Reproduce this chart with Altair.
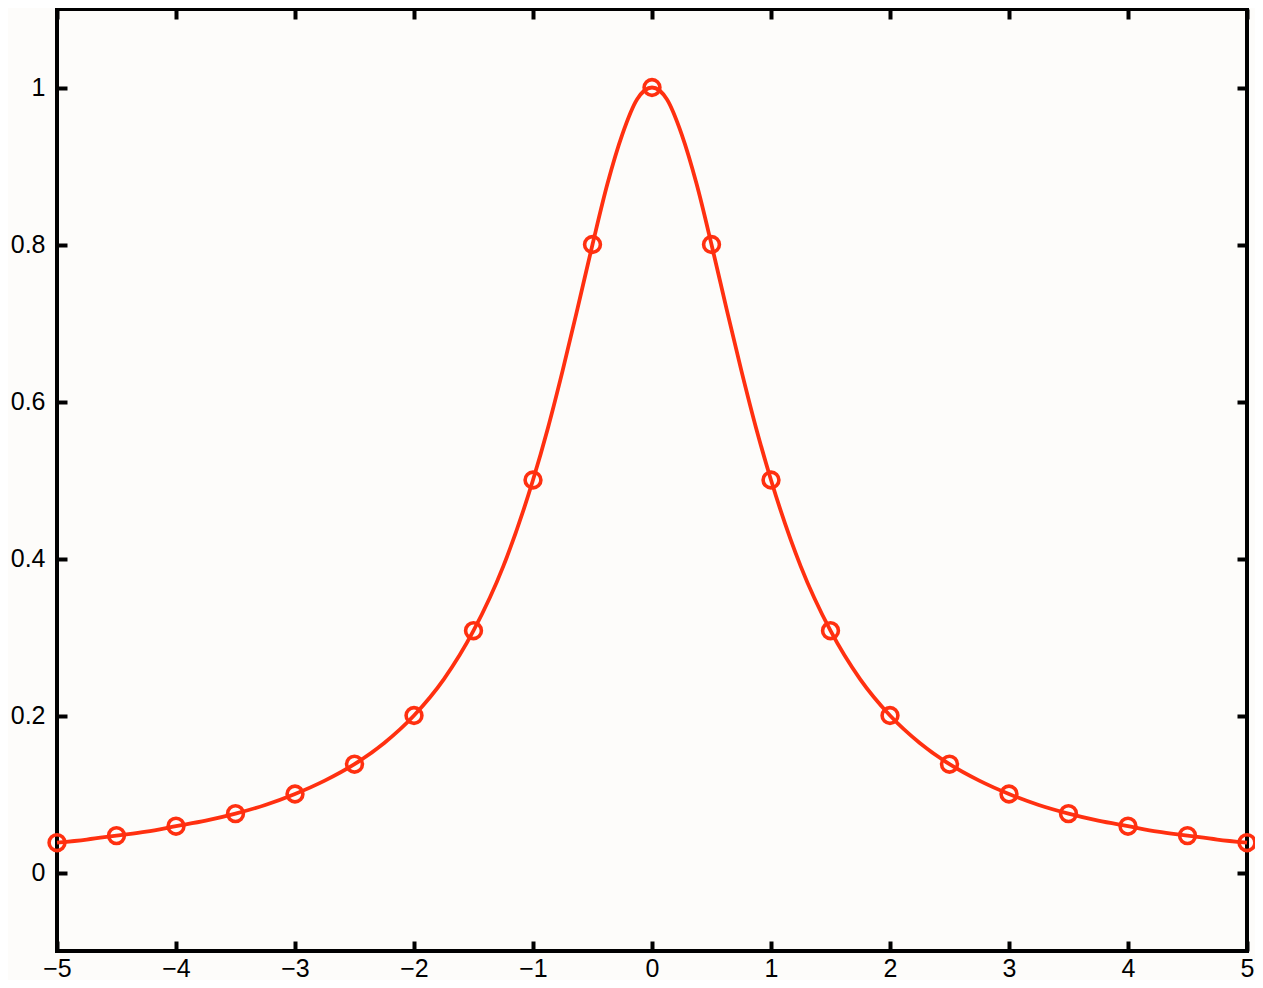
import altair as alt
import pandas as pd

# Sample points (circles)
pt_x = [-5, -4.5, -4, -3.5, -3, -2.5, -2, -1.5, -1, -0.5, 0,
        0.5, 1, 1.5, 2, 2.5, 3, 3.5, 4, 4.5, 5]
pt_y = [0.038, 0.047, 0.059, 0.075, 0.100, 0.138, 0.200, 0.308, 0.500, 0.800, 1.000,
        0.800, 0.500, 0.308, 0.200, 0.138, 0.100, 0.075, 0.059, 0.047, 0.038]

# Curve readings (denser)
cv_x = [-5, -4.75, -4.5, -4.25, -4, -3.75, -3.5, -3.25, -3, -2.75, -2.5, -2.25, -2,
        -1.75, -1.5, -1.25, -1, -0.875, -0.75, -0.625, -0.5, -0.375, -0.25, -0.125, 0,
        0.125, 0.25, 0.375, 0.5, 0.625, 0.75, 0.875, 1, 1.25, 1.5, 1.75,
        2, 2.25, 2.5, 2.75, 3, 3.25, 3.5, 3.75, 4, 4.25, 4.5, 4.75, 5]
cv_y = [0.038, 0.042, 0.047, 0.052, 0.059, 0.066, 0.075, 0.086, 0.100, 0.117, 0.138, 0.165, 0.200,
        0.246, 0.308, 0.390, 0.500, 0.566, 0.640, 0.719, 0.800, 0.877, 0.940, 0.985, 1.000,
        0.985, 0.940, 0.877, 0.800, 0.719, 0.640, 0.566, 0.500, 0.390, 0.308, 0.246,
        0.200, 0.165, 0.138, 0.117, 0.100, 0.086, 0.075, 0.066, 0.059, 0.052, 0.047, 0.042, 0.038]

x_ticks = [-5, -4, -3, -2, -1, 0, 1, 2, 3, 4, 5]
y_ticks = [0, 0.2, 0.4, 0.6, 0.8, 1]

RED = "#ff3010"

pts = pd.DataFrame({"x": pt_x, "y": pt_y})
cur = pd.DataFrame({"x": cv_x, "y": cv_y})

xscale = alt.Scale(domain=[-5, 5], nice=False, zero=False)
yscale = alt.Scale(domain=[-0.1, 1.1], nice=False, zero=False)

line = alt.Chart(cur).mark_line(color=RED, strokeWidth=3.8, interpolate="monotone").encode(
    x=alt.X("x:Q", scale=xscale, title=None,
            axis=alt.Axis(orient="bottom", values=x_ticks, format="d", offset=-10,
                          labelPadding=5, labelFlush=False, labelOverlap=False)),
    y=alt.Y("y:Q", scale=yscale, title=None,
            axis=alt.Axis(orient="left", values=y_ticks, format="~g", offset=-10,
                          labelPadding=12, labelFlush=False, labelOverlap=False)),
)

circles = alt.Chart(pts).mark_point(shape="circle", filled=False, color=RED,
                                    strokeWidth=3.6, size=250, opacity=1).encode(
    x=alt.X("x:Q", scale=xscale, title=None,
            axis=alt.Axis(orient="top", values=x_ticks, labels=False, offset=-10)),
    y=alt.Y("y:Q", scale=yscale, title=None,
            axis=alt.Axis(orient="right", values=y_ticks, labels=False, offset=-10)),
)

chart = alt.layer(line, circles).properties(
    width=1190, height=942,
    autosize=alt.AutoSizeParams(type="none"),
    padding={"left": 49, "top": 1, "right": 8, "bottom": 29},
    background="#fdfcfa",
).configure_view(
    stroke="black", strokeWidth=4, fill="#fdfcfa"
).configure_axis(
    grid=False, domain=False, ticks=True, tickColor="black", tickWidth=4, tickSize=10,
    labelFont="Liberation Sans", labelFontSize=25, labelColor="black",
)

chart.save("out.html", embed_options={"renderer": "svg", "actions": False})
